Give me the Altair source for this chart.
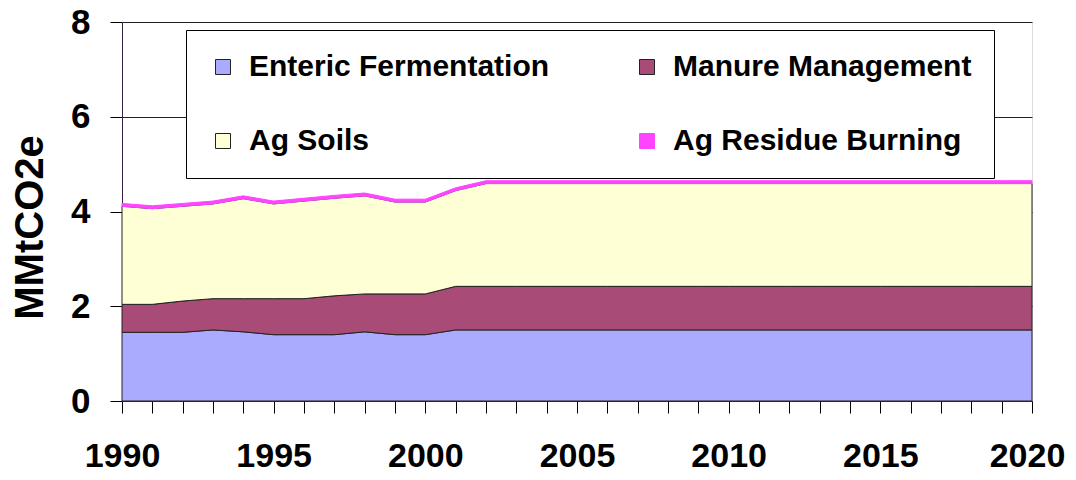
import altair as alt
import pandas as pd

years = list(range(1990, 2021))
enteric = [1.45, 1.45, 1.45, 1.50, 1.46, 1.40, 1.40, 1.40, 1.46, 1.40, 1.40, 1.50,
           1.50, 1.50, 1.50, 1.50, 1.50, 1.50, 1.50, 1.50, 1.50, 1.50, 1.50, 1.50,
           1.50, 1.50, 1.50, 1.50, 1.50, 1.50, 1.50]
manure = [0.59, 0.59, 0.66, 0.66, 0.70, 0.76, 0.76, 0.82, 0.80, 0.86, 0.86, 0.92,
          0.92, 0.92, 0.92, 0.92, 0.92, 0.92, 0.92, 0.92, 0.92, 0.92, 0.92, 0.92,
          0.92, 0.92, 0.92, 0.92, 0.92, 0.92, 0.92]
ag_soils = [2.07, 2.02, 2.00, 2.00, 2.11, 2.00, 2.06, 2.06, 2.07, 1.94, 1.94, 2.02,
            2.17, 2.17, 2.17, 2.17, 2.17, 2.17, 2.17, 2.17, 2.17, 2.17, 2.17, 2.17,
            2.17, 2.17, 2.17, 2.17, 2.17, 2.17, 2.17]
ag_residue = [0.06, 0.06, 0.06, 0.06, 0.06, 0.06, 0.06, 0.06, 0.06, 0.06, 0.06, 0.06,
              0.06, 0.06, 0.06, 0.06, 0.06, 0.06, 0.06, 0.06, 0.06, 0.06, 0.06, 0.06,
              0.06, 0.06, 0.06, 0.06, 0.06, 0.06, 0.06]

series_names = ["Enteric Fermentation", "Manure Management", "Ag Soils", "Ag Residue Burning"]
series_values = [enteric, manure, ag_soils, ag_residue]
fill_colors = ["#AAAAFF", "#A94B77", "#FFFFD6", "#FF44FF"]
stroke_colors = ["#222222", "#222222", "#222222", "#FF44FF"]
y_ticks = [0, 2, 4, 6, 8]

rows = []
for k, (name, vals) in enumerate(zip(series_names, series_values)):
    for yr, v in zip(years, vals):
        rows.append({"year": yr, "value": v, "series": name, "order": k})
df = pd.DataFrame(rows)

FONT = "Arial, Liberation Sans, sans-serif"

legend = alt.Legend(
    title=None, orient="none", legendX=64, legendY=8, columns=2,
    symbolType="square", symbolSize=225, symbolStrokeWidth=1,
    labelFont=FONT, labelFontSize=30, labelFontWeight="bold", labelColor="black",
    labelOffset=11, labelLimit=500, columnPadding=82, rowPadding=44,
    padding=22, fillColor="white", strokeColor="black", direction="horizontal",
)

x_label_offset = {"condition": {"test": "datum.value == 2020", "value": -5}, "value": 0}

chart = alt.Chart(df).mark_area(strokeWidth=1, interpolate="linear").encode(
    x=alt.X("year:Q", scale=alt.Scale(domain=[1990, 2020], nice=False),
            axis=alt.Axis(values=years, format="d",
                          labelExpr="datum.value % 5 == 0 ? datum.label : ''",
                          title=None, grid=False, tickSize=12, tickColor="black",
                          labelPadding=53, labelBaseline="alphabetic",
                          labelOffset=x_label_offset,
                          labelFont=FONT, labelFontSize=34,
                          labelFontWeight="bold", labelColor="black",
                          domainColor="#332244", labelOverlap=False, labelFlush=False)),
    y=alt.Y("value:Q", stack="zero", scale=alt.Scale(domain=[0, 8], nice=False),
            axis=alt.Axis(values=y_ticks, title="MMtCO2e", grid=True, gridColor="#222222",
                          gridOpacity=1, tickSize=12, tickColor="black", labelPadding=20,
                          labelFont=FONT, labelFontSize=35, labelFontWeight="bold",
                          labelColor="black", domainColor="#332244",
                          titleFont=FONT, titleFontSize=40, titleFontWeight="bold",
                          titleColor="black", titleAngle=270, titleX=-92, titleY=205,
                          titleAlign="center", titleBaseline="middle")),
    fill=alt.Fill("series:N", scale=alt.Scale(domain=series_names, range=fill_colors),
                  legend=legend),
    stroke=alt.Stroke("series:N", scale=alt.Scale(domain=series_names, range=stroke_colors),
                      legend=legend),
    order=alt.Order("order:Q", sort="ascending"),
).properties(
    width=910, height=379,
    autosize=alt.AutoSizeParams(type="none"),
    padding={"left": 114, "top": 14, "right": 36, "bottom": 71},
).configure_view(
    stroke="black", strokeWidth=1, fill="white"
).configure(background="white")

chart.save("out.html", embed_options={"renderer": "svg", "actions": False})
